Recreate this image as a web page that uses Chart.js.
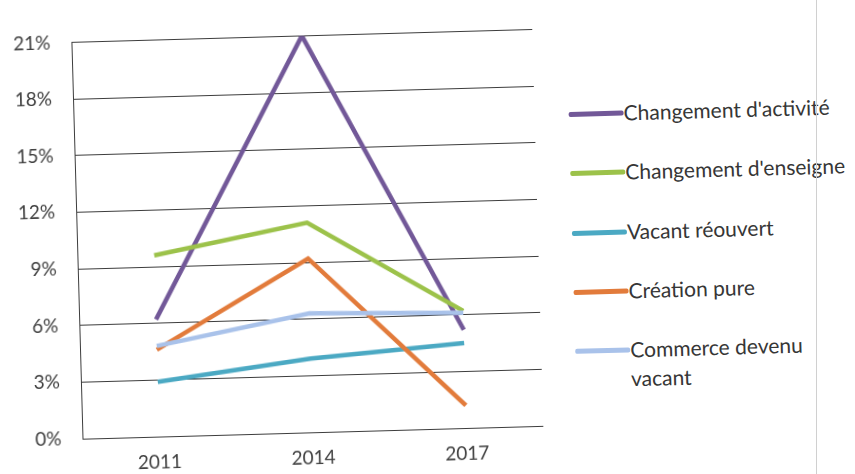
<!DOCTYPE html>
<html lang="fr">
  <head>
    <meta charset="UTF-8" />
    <title>Évolution des commerces</title>
    <script src="https://cdn.jsdelivr.net/npm/chart.js@4.4.1/dist/chart.umd.min.js"></script>
    <style>
      html,
      body {
        margin: 0;
        padding: 0;
        background: #fff;
      }
      body {
        width: 855px;
        height: 474px;
        overflow: hidden;
        position: relative;
        font-family: Lato, sans-serif;
      }
      #sheet {
        position: absolute;
        left: 0;
        top: 0;
        width: 855px;
        height: 474px;
        transform: rotate(-1.6deg);
      }
      .chart-container {
        position: absolute;
        left: 0;
        top: 0;
        width: 560px;
        height: 474px;
      }
      #legend {
        position: absolute;
        left: 572px;
        top: 0;
        width: 280px;
      }
      .item {
        position: absolute;
        left: 0;
        display: flex;
        align-items: flex-start;
        white-space: pre;
      }
      .swatch {
        width: 55px;
        height: 5px;
        border-radius: 2px;
        margin-top: 13px;
      }
      .label {
        font-size: 21px;
        line-height: 29px;
        color: #363636;
        white-space: pre;
      }
      #edge {
        position: absolute;
        left: 816px;
        top: 0;
        width: 1px;
        height: 474px;
        background: #d0d0d0;
      }
    </style>
  </head>
  <body>
    <div id="sheet">
      <div class="chart-container">
        <canvas id="chart"></canvas>
      </div>
      <div id="legend"></div>
    </div>
    <div id="edge"></div>

    <script>
      const years = ["2011", "2014", "2017"];
      const yTicks = [0, 3, 6, 9, 12, 15, 18, 21];

      const changementActivite = [6.2, 21.0, 5.2];
      const changementEnseigne = [9.6, 11.1, 6.2];
      const vacantRouvert = [2.9, 3.9, 4.5];
      const creationPure = [4.6, 9.2, 1.2];
      const commerceVacant = [4.8, 6.3, 6.1];

      const seriesNames = [
        "Changement d'activité",
        "Changement d'enseigne",
        "Vacant réouvert",
        "Création pure",
        "Commerce devenu\nvacant",
      ];
      const seriesColors = ["#725898", "#9cc24a", "#4ba9c3", "#e27b3b", "#a9c2ea"];
      const seriesValues = [
        changementActivite,
        changementEnseigne,
        vacantRouvert,
        creationPure,
        commerceVacant,
      ];

      const gridColor = "#3c3c3c";
      const textColor = "#404040";

      const datasets = seriesValues.map((values, i) => ({
        label: seriesNames[i].replace("\n", " "),
        data: values,
        borderColor: seriesColors[i],
        backgroundColor: seriesColors[i],
        borderWidth: 4.5,
        pointRadius: 0,
        tension: 0,
        fill: false,
        // later series are painted over earlier ones
        order: seriesValues.length - i,
      }));

      new Chart(document.getElementById("chart"), {
        type: "line",
        data: { labels: years, datasets },
        options: {
          responsive: true,
          maintainAspectRatio: false,
          animation: false,
          layout: { padding: { top: 18, right: 22, left: 0, bottom: 0 } },
          plugins: {
            legend: { display: false },
            tooltip: { enabled: false },
          },
          scales: {
            x: {
              offset: true,
              grid: { display: false, drawTicks: false },
              border: { display: false },
              ticks: {
                color: textColor,
                padding: 14,
                font: { family: "Lato", size: 19 },
              },
              afterFit: (scale) => {
                scale.height = 45;
              },
            },
            y: {
              min: 0,
              max: 21,
              grid: { color: gridColor, lineWidth: 1, drawTicks: false },
              border: { display: true, color: gridColor, width: 1 },
              ticks: {
                color: textColor,
                padding: 21,
                font: { family: "Lato", size: 19 },
                callback: (v) => v + "%",
              },
              afterBuildTicks: (scale) => {
                scale.ticks = yTicks.map((v) => ({ value: v }));
              },
              afterFit: (scale) => {
                scale.width = 77;
              },
            },
          },
        },
      });

      // legend on the right, one row per series
      const legend = document.getElementById("legend");
      seriesNames.forEach((name, i) => {
        const item = document.createElement("div");
        item.className = "item";
        item.style.top = 103 + i * 59.3 + "px";
        const swatch = document.createElement("div");
        swatch.className = "swatch";
        swatch.style.background = seriesColors[i];
        const label = document.createElement("div");
        label.className = "label";
        label.textContent = name;
        item.appendChild(swatch);
        item.appendChild(label);
        legend.appendChild(item);
      });
    </script>
  </body>
</html>
